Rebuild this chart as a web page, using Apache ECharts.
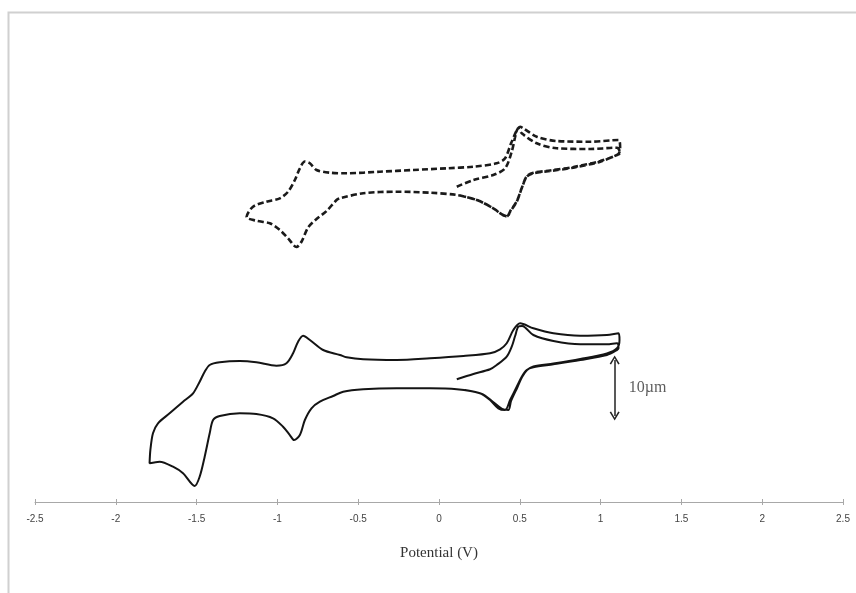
<!DOCTYPE html>
<html>
<head>
<meta charset="utf-8">
<script src="https://cdn.jsdelivr.net/npm/echarts@6/dist/echarts.min.js"></script>
<style>
  html, body { margin: 0; padding: 0; background: #fff; }
  #chart { width: 856px; height: 593px; }
</style>
</head>
<body>
<div id="chart"></div>
<script>
// Potential axis ticks (V)
const xTicks = [-2.5, -2, -1.5, -1, -0.5, 0, 0.5, 1, 1.5, 2, 2.5];

// Lower voltammogram (solid line): potential (V) and current (µA, offset)
const solidPotential = [
  0.110, 0.213, 0.316, 0.357, 0.419, 0.450, 0.471, 0.491, 0.514, 0.584,
  0.708, 0.874, 1.039, 1.101, 1.111, 1.101, 1.039, 0.874, 0.708, 0.584,
  0.543, 0.512, 0.481, 0.440, 0.409, 0.367, 0.316, 0.254, 0.110, -0.056,
  -0.262, -0.469, -0.593, -0.655, -0.737, -0.789, -0.830, -0.861, -0.897, -0.923,
  -0.965, -1.027, -1.130, -1.233, -1.357, -1.398, -1.419, -1.450, -1.481, -1.512,
  -1.584, -1.646, -1.729, -1.791, -1.786, -1.770, -1.739, -1.667, -1.584, -1.522,
  -1.481, -1.450, -1.419, -1.357, -1.233, -1.130, -1.006, -0.944, -0.903, -0.872,
  -0.841, -0.799, -0.717, -0.613, -0.572, -0.469, -0.262, -0.056, 0.151, 0.316,
  0.378, 0.419, 0.460, 0.502, 0.584, 0.708, 0.874, 1.039, 1.111, 1.117,
  1.103, 1.039, 0.874, 0.708, 0.584, 0.545, 0.514, 0.486, 0.446, 0.429,
  0.390, 0.335, 0.266, 0.161
];
const solidCurrent = [
  21.91, 22.86, 23.70, 24.46, 25.95, 27.73, 29.64, 31.30, 31.43, 29.82,
  28.75, 28.16, 28.16, 28.34, 27.45, 27.14, 26.25, 25.36, 24.59, 24.05,
  23.57, 22.38, 20.59, 18.21, 16.43, 16.73, 18.21, 19.41, 20.13, 20.30,
  20.30, 20.13, 19.70, 18.93, 17.91, 16.73, 14.64, 11.96, 11.07, 11.96,
  13.45, 14.95, 15.71, 15.84, 15.36, 14.64, 12.27, 8.09, 4.52, 2.86,
  5.13, 6.30, 7.20, 6.91, 9.29, 12.27, 14.05, 15.84, 17.91, 19.41,
  21.48, 23.27, 24.46, 24.95, 25.18, 24.95, 24.34, 24.77, 26.55, 28.63,
  29.70, 28.93, 27.14, 26.25, 25.84, 25.48, 25.36, 25.66, 26.07, 26.55,
  27.27, 28.34, 30.71, 31.91, 31.02, 30.13, 29.70, 29.82, 30.13, 28.93,
  27.50, 26.52, 25.54, 24.73, 24.20, 23.57, 22.32, 20.54, 18.04, 16.43,
  16.61, 17.86, 19.29, 20.00
];

// Upper voltammogram (dashed line): potential (V) and current (µA, offset)
const dashedPotential = [
  0.110, 0.213, 0.336, 0.409, 0.450, 0.491, 0.512, 0.605, 0.729, 0.936,
  1.101, 1.121, 1.101, 0.998, 0.832, 0.688, 0.584, 0.543, 0.512, 0.481,
  0.440, 0.419, 0.388, 0.336, 0.234, 0.110, -0.056, -0.262, -0.469, -0.613,
  -0.634, -0.696, -0.758, -0.810, -0.851, -0.882, -0.934, -0.985, -1.047, -1.130,
  -1.191, -1.151, -1.068, -0.985, -0.934, -0.892, -0.861, -0.830, -0.799, -0.758,
  -0.675, -0.572, -0.366, -0.159, 0.048, 0.213, 0.357, 0.409, 0.450, 0.502,
  0.522, 0.605, 0.729, 0.936, 1.111, 1.121, 1.109, 0.998, 0.832, 0.688,
  0.584, 0.543, 0.512, 0.481, 0.440, 0.424, 0.390, 0.336, 0.234, 0.130
];
const dashedCurrent = [
  56.30, 57.50, 58.39, 59.59, 62.55, 66.73, 65.84, 64.05, 63.16, 63.04,
  63.27, 62.32, 61.96, 60.77, 59.70, 59.11, 58.70, 58.09, 56.02, 53.63,
  51.84, 50.95, 51.38, 52.45, 53.93, 54.82, 55.23, 55.41, 55.13, 54.23,
  53.93, 51.96, 50.54, 49.02, 46.48, 45.54, 47.09, 48.57, 49.77, 50.23,
  50.89, 52.73, 53.63, 54.23, 55.41, 57.50, 59.59, 60.80, 60.48, 59.29,
  58.80, 58.70, 58.98, 59.29, 59.59, 59.88, 60.48, 61.38, 64.34, 67.02,
  66.73, 65.23, 64.46, 64.34, 64.64, 63.21, 62.14, 60.89, 59.82, 59.20,
  58.79, 58.16, 56.07, 53.70, 51.91, 50.98, 51.34, 52.45, 53.93, 54.73
];

// Current scale bar: 10 units at this potential
const scaleBarPotential = 1.087;
const scaleBarCurrent = [15.36, 25.36];
const scaleBarText = '10µm';

const pairs = (xs, ys) => xs.map((x, i) => [x, ys[i]]);

const chart = echarts.init(document.getElementById('chart'), null, { renderer: 'canvas' });

const axisGray = '#a8a8a8';
const chevron = 'path://M0,10 L5,0 L10,10 L8.6,10.9 L5,3.4 L1.4,10.9 Z';

chart.setOption({
  backgroundColor: '#ffffff',
  animation: false,
  graphic: [{
    type: 'rect',
    left: 6, top: 10,
    shape: { width: 900, height: 700 },
    style: { fill: 'none', stroke: '#d0d0d0', lineWidth: 2 },
    silent: true
  }],
  grid: { left: 35, right: 13, top: 54, bottom: 91, containLabel: false },
  xAxis: [{
    type: 'value',
    min: xTicks[0], max: xTicks[xTicks.length - 1], interval: 0.5,
    position: 'bottom',
    name: 'Potential (V)',
    nameLocation: 'middle',
    nameGap: 44,
    nameTextStyle: { fontFamily: 'Liberation Serif', fontSize: 15, color: '#333' },
    axisLine: { show: true, lineStyle: { color: axisGray, width: 1 } },
    axisTick: { show: true, length: 3, inside: false, lineStyle: { color: axisGray } },
    axisLabel: {
      margin: 12, fontSize: 10, color: '#444', fontFamily: 'Liberation Sans',
      formatter: v => String(v)
    },
    splitLine: { show: false }
  }, {
    type: 'value',
    min: xTicks[0], max: xTicks[xTicks.length - 1], interval: 0.5,
    position: 'bottom',
    axisLine: { show: false },
    axisTick: { show: true, length: 3, inside: true, lineStyle: { color: axisGray } },
    axisLabel: { show: false },
    splitLine: { show: false }
  }],
  yAxis: { type: 'value', min: 0, max: 80, show: false },
  series: [{
    name: 'solid',
    type: 'line',
    data: pairs(solidPotential, solidCurrent),
    showSymbol: false,
    smooth: 0.3,
    lineStyle: { color: '#141414', width: 2 },
    z: 3
  }, {
    name: 'dashed',
    type: 'line',
    data: pairs(dashedPotential, dashedCurrent),
    showSymbol: false,
    smooth: 0.3,
    lineStyle: { color: '#1a1a1a', width: 2.6, type: [6, 3] },
    z: 3
  }, {
    name: 'scale',
    type: 'scatter',
    symbolSize: 0,
    data: [[scaleBarPotential, (scaleBarCurrent[0] + scaleBarCurrent[1]) / 2]],
    label: {
      show: true, position: 'right', distance: 14,
      formatter: scaleBarText,
      fontFamily: 'Liberation Serif', fontSize: 16, color: '#333'
    },
    markLine: {
      silent: true,
      symbol: [chevron, chevron],
      symbolSize: [10, 9],
      label: { show: false },
      lineStyle: { color: '#222', width: 1.5, type: 'solid' },
      data: [[
        { coord: [scaleBarPotential, scaleBarCurrent[1]] },
        { coord: [scaleBarPotential, scaleBarCurrent[0]] }
      ]]
    }
  }]
});
</script>
</body>
</html>
